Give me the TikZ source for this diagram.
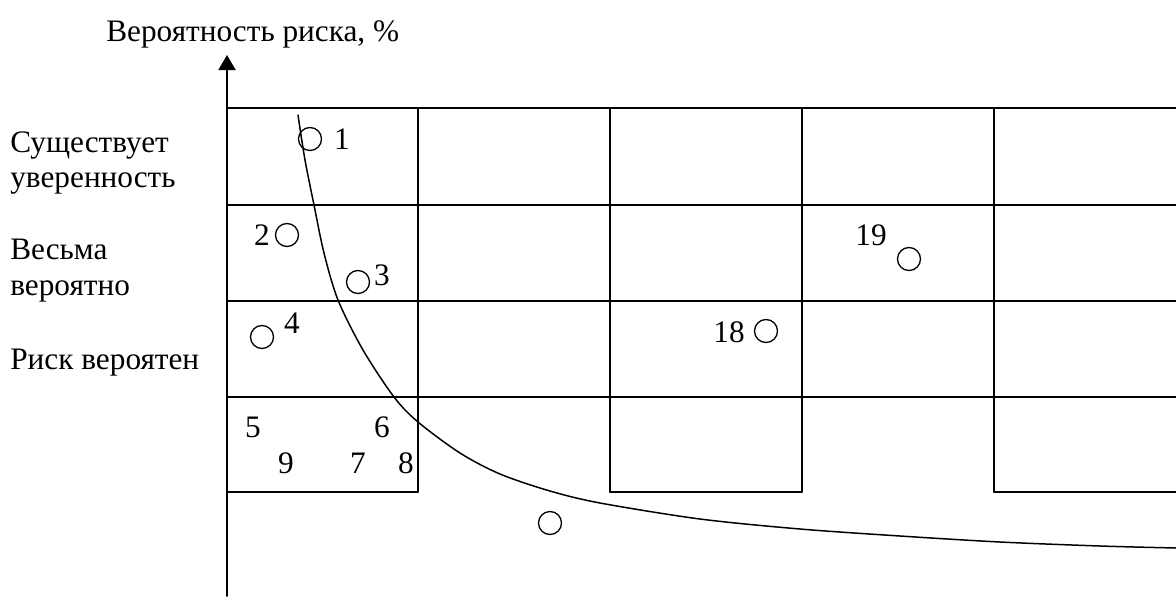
\documentclass[tikz,border=0pt]{standalone}
\usepackage{fontspec}
\setmainfont{Liberation Serif}
\usetikzlibrary{arrows.meta}

\tikzset{
  grid/.style={line width=1.1pt},
  riskpt/.style={circle, draw, line width=0.75pt, minimum size=0.46cm, inner sep=0pt},
  num/.style={inner sep=0pt},
  lbl/.style={inner sep=0pt, anchor=base west}
}

\begin{document}
\begin{tikzpicture}[x=0.02cm, y=-0.02cm, line cap=round, line join=round,
    every node/.append style={font=\fontsize{17.8}{21}\selectfont}]
  % Window bounds (pixel units, y down)
  \def\xL{227} \def\xR{1176}
  \def\yT{108} \def\yB{492}
  \useasboundingbox (0,0) rectangle (1176,596);

  % Grid rows
  \foreach \y in {108,205,301,397}
    \draw[grid] (\xL,\y) -- (\xR,\y);
  % Grid columns
  \foreach \x in {418,610,802,994}
    \draw[grid] (\x,\yT) -- (\x,\yB);
  % Bottom edges of the lower boxes
  \draw[grid] (\xL,\yB) -- (418,\yB);
  \draw[grid] (610,\yB) -- (802,\yB);
  \draw[grid] (994,\yB) -- (\xR,\yB);

  % Axis
  \coordinate (O) at (\xL,596);
  \coordinate (Ytop) at (\xL,55);
  \draw[grid, -{Triangle[width=0.34cm, length=0.3cm]}] (O) -- (Ytop);
  \node[lbl] (ylabel) at (106,41) {Вероятность риска, \%};

  % Levels
  \node[lbl] (lev1a) at (10,152) {Существует};
  \node[lbl] (lev1b) at (10,187) {уверенность};
  \node[lbl] (lev2a) at (10,259) {Весьма};
  \node[lbl] (lev2b) at (10,295) {вероятно};
  \node[lbl] (lev3)  at (10,369) {Риск вероятен};

  % Risk boundary curve: steep near the top, hyperbola-like tail
  \draw[line width=0.85pt] plot[smooth, tension=0.5] coordinates {
    (298,115) (305,160) (314,205) (324,253) (338,300) (363,350)
    (394,397) (418,422) (460,453) (500,474) (550,491) (600,503)
    (700,519) (800,529) (900,536) (1000,542) (1100,546) (1176,548)};

  % Risks
  \node[riskpt] (c1) at (310,139) {};  \node[num] (n1) at (342,139) {1};
  \node[riskpt] (c2) at (287,235) {};  \node[num] (n2) at (262,235) {2};
  \node[riskpt] (c3) at (358,282) {};  \node[num] (n3) at (382,275) {3};
  \node[riskpt] (c4) at (262,337) {};  \node[num] (n4) at (292,323) {4};
  \node[num] (n5) at (253,427) {5};
  \node[num] (n6) at (382,427) {6};
  \node[num] (n9) at (286,463) {9};
  \node[num] (n7) at (358,463) {7};
  \node[num] (n8) at (406,463) {8};
  \node[riskpt] (c18) at (766,331) {}; \node[num] (n18) at (729,332) {18};
  \node[riskpt] (c19) at (909,259) {}; \node[num] (n19) at (871,235) {19};
  \node[riskpt] (c0) at (550,523) {};
\end{tikzpicture}
\end{document}
